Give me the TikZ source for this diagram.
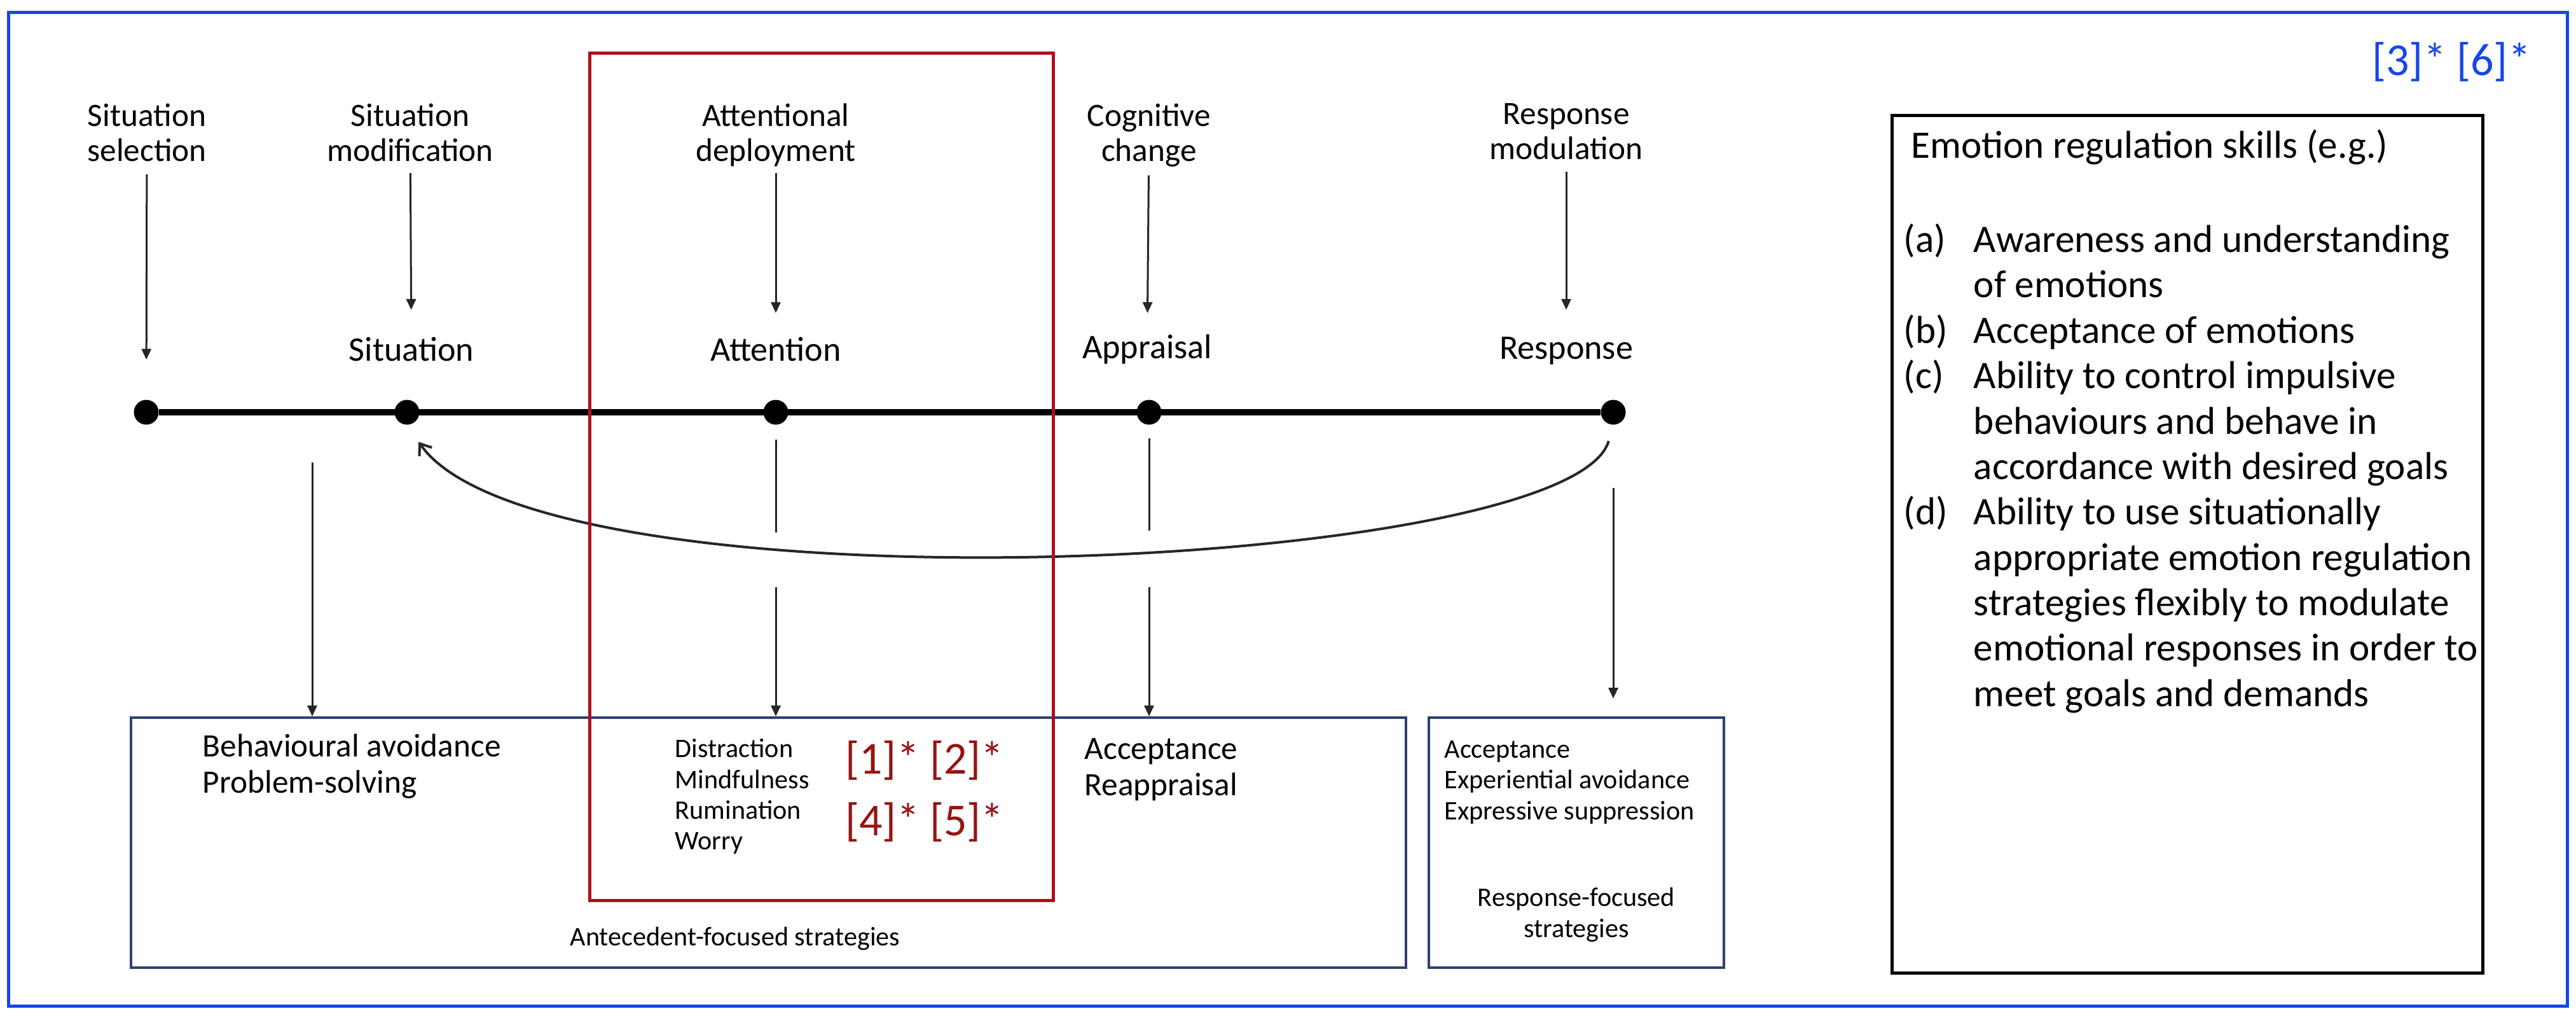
\documentclass[tikz,border=0pt]{standalone}
\usepackage{fontspec}
\setmainfont{Carlito}
\usetikzlibrary{arrows.meta}

\definecolor{frameblue}{RGB}{20,70,235}
\definecolor{boxred}{RGB}{175,15,30}
\definecolor{refred}{RGB}{150,20,20}
\definecolor{boxnavy}{RGB}{45,65,110}

\begin{document}
\begin{tikzpicture}[x=1mm,y=-1mm,
  stage/.style={font=\fontsize{14.6}{15.6}\selectfont, align=center, inner sep=0pt, anchor=north},
  midstage/.style={stage, font=\fontsize{15.4}{17}\selectfont},
  stratbig/.style={font=\fontsize{14.6}{16.3}\selectfont, align=left, inner sep=0pt, anchor=north west},
  stratsmall/.style={font=\fontsize{12}{13.7}\selectfont, align=left, inner sep=0pt, anchor=north west},
  refs/.style={font=\fontsize{20.5}{24}\selectfont, inner sep=0pt},
  tldot/.style={circle, fill=black, inner sep=0pt, minimum size=3.9mm},
  arr/.style={-{Triangle[length=1.7mm,width=1.5mm]}, line width=0.3mm, black!85},
  seg/.style={line width=0.3mm, black!85},
  stratbox/.style={draw=boxnavy, line width=0.4mm, inner sep=0pt, anchor=north west},
  ]
  \useasboundingbox (0,0) rectangle (405.1,159.7);
  \fill[white] (0,0) rectangle (405.1,159.7);
  \draw[frameblue, line width=0.5mm] (1.3,2.0) rectangle (403.7,158.1);

  % process stages
  \node[stage] (tsel) at (23.1,16.2) {Situation\\selection};
  \node[stage] (tmod) at (64.5,16.2) {Situation\\modification};
  \node[stage] (tatt) at (122.0,16.2) {Attentional\\deployment};
  \node[stage] (tcog) at (180.7,16.2) {Cognitive\\change};
  \node[stage] (tres) at (246.3,16.2) {Response\\modulation};

  \node[midstage] (msit) at (64.7,52.9) {Situation};
  \node[midstage] (matt) at (122.0,52.9) {Attention};
  \node[midstage] (mapp) at (180.4,52.5) {Appraisal};
  \node[midstage] (mres) at (246.3,52.9) {Response};

  % time line
  \node[tldot] (dsel) at (23.0,64.8) {};
  \node[tldot] (dsit) at (64.0,64.8) {};
  \node[tldot] (datt) at (122.0,64.8) {};
  \node[tldot] (dapp) at (180.7,64.8) {};
  \node[tldot] (dres) at (253.7,64.8) {};
  \draw[line width=1mm] (dsel) -- (dres);

  \draw[arr, shorten <=2mm, shorten >=6.25mm] (tsel) -- (dsel);
  \draw[arr, shorten <=1.8mm, shorten >=4.2mm] (tmod) -- (msit);
  \draw[arr, shorten <=1mm, shorten >=3.7mm] (tatt) -- (matt);
  \draw[arr, shorten <=1.3mm, shorten >=3.3mm] (tcog) -- (mapp);
  \draw[arr, shorten <=1.8mm, shorten >=4.2mm] (tres) -- (mres);

  % strategy boxes
  \node[stratbox, minimum width=200.5mm, minimum height=39.3mm] (antbox) at (20.4,112.6) {};
  \node[stratbox, minimum width=46.4mm, minimum height=39.3mm] (resbox) at (224.5,112.6) {};

  \node[stratbig] (avoid) at (31.8,115.3) {Behavioural avoidance\\Problem-solving};
  \node[stratsmall] (attn) at (106.1,116.1) {Distraction\\Mindfulness\\Rumination\\Worry};
  \node[refs, text=refred] (refa) at (145.4,119.5) {[1]* [2]*};
  \node[refs, text=refred] (refb) at (145.4,129.2) {[4]* [5]*};
  \node[stratbig] (reap) at (170.5,116.0) {Acceptance\\Reappraisal};
  \node[stratsmall] (supp) at (227.1,116.4) {Acceptance\\Experiential avoidance\\Expressive suppression};
  \node[stratsmall, anchor=center, align=center] (rfoc) at (247.9,143.8) {Response-focused\\strategies};
  \node[stratsmall, anchor=center] (afoc) at (115.6,147.5) {Antecedent-focused strategies};

  % arrows into the boxes
  \coordinate (bsit) at (49.1,72.7);
  \coordinate (attA) at (122.0,83.7);
  \coordinate (attB) at (122.0,92.3);
  \coordinate (appA) at (180.7,83.4);
  \coordinate (appB) at (180.7,92.3);
  \draw[arr] (bsit) -- (bsit |- antbox.north);
  \draw[seg, shorten <=2.3mm] (datt) -- (attA);
  \draw[arr] (attB) -- (attB |- antbox.north);
  \draw[seg, shorten <=2.1mm] (dapp) -- (appA);
  \draw[arr] (appB) -- (appB |- antbox.north);
  \draw[arr, shorten <=9.9mm, shorten >=2.8mm] (dres) -- (dres |- resbox.north);

  % feedback loop
  \draw[-{Straight Barb[length=1.6mm,width=2.4mm]}, line width=0.4mm, black!85, shorten <=2.6mm, shorten >=3.2mm]
    (dres.south) .. controls (247.0,90.0) and (85.0,97.0) .. (dsit.south);

  % highlighted column
  \draw[boxred, line width=0.5mm] (92.7,8.4) rectangle (165.6,141.5);

  % skills
  \node[refs, text=frameblue] (refc) at (385.5,9.7) {[3]* [6]*};
  \node[draw, line width=0.5mm, minimum width=92.9mm, minimum height=134.8mm, inner sep=0pt, anchor=north west] (skills) at (297.3,17.9) {};
  \node[font=\fontsize{17.4}{20.3}\selectfont, inner sep=0pt, anchor=base west] (sktitle) at (300.5,24.85) {Emotion regulation skills (e.g.)};
  \node[font=\fontsize{17.4}{20.3}\selectfont, inner sep=0pt, anchor=north west] (sklist) at (299.3,34.6) {%
    \begin{tabular}{@{}l@{\hspace{4.1mm}}l@{}}
      (a) & Awareness and understanding\\
          & of emotions\\
      (b) & Acceptance of emotions\\
      (c) & Ability to control impulsive\\
          & behaviours and behave in\\
          & accordance with desired goals\\
      (d) & Ability to use situationally\\
          & appropriate emotion regulation\\
          & strategies flexibly to modulate\\
          & emotional responses in order to\\
          & meet goals and demands
    \end{tabular}};
\end{tikzpicture}
\end{document}
